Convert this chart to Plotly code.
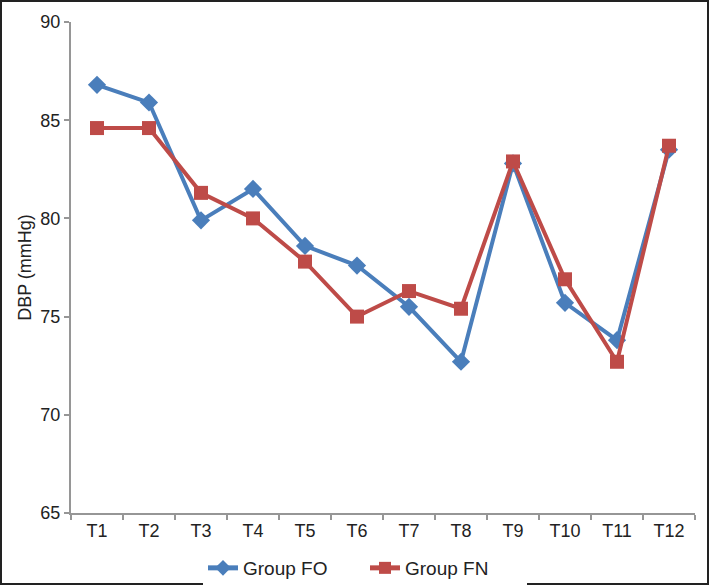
import plotly.graph_objects as go

categories = ["T1", "T2", "T3", "T4", "T5", "T6", "T7", "T8", "T9", "T10", "T11", "T12"]
group_fo = [86.8, 85.9, 79.9, 81.5, 78.6, 77.6, 75.5, 72.7, 82.8, 75.7, 73.8, 83.5]
group_fn = [84.6, 84.6, 81.3, 80.0, 77.8, 75.0, 76.3, 75.4, 82.9, 76.9, 72.7, 83.7]
y_ticks = [65, 70, 75, 80, 85, 90]

W, H = 710, 586
L, R, T, B = 71, 15, 22, 73

fig = go.Figure()
fig.add_trace(go.Scatter(x=categories, y=group_fo, name="Group FO", mode="lines+markers",
                         line=dict(color="#4A7EBB", width=4),
                         marker=dict(symbol="diamond", size=14, color="#4A7EBB")))
fig.add_trace(go.Scatter(x=categories, y=group_fn, name="Group FN", mode="lines+markers",
                         line=dict(color="#BE4B48", width=4),
                         marker=dict(symbol="square", size=14, color="#BE4B48")))

pw, ph = W - L - R, H - T - B
fig.add_shape(type="rect", xref="paper", yref="paper",
              x0=(-L + 1) / pw, x1=(W - L - 2) / pw,
              y0=(-B + 2) / ph, y1=(ph + T - 1) / ph,
              line=dict(color="#222222", width=2), layer="above")

fig.update_layout(
    width=W, height=H,
    margin=dict(l=L, r=R, t=T, b=B, autoexpand=False),
    paper_bgcolor="white", plot_bgcolor="white",
    font=dict(family="Liberation Sans, Arial, sans-serif", color="#222222", size=18),
    showlegend=True,
    legend=dict(orientation="h", x=(203 - L) / pw, xanchor="left",
                y=-(549 - T - ph) / ph, yanchor="top",
                font=dict(size=19), entrywidth=117, entrywidthmode="pixels",
                itemsizing="constant", tracegroupgap=0),
    xaxis=dict(type="category", showline=True, linecolor="#969696", linewidth=2,
               ticks="outside", tickson="boundaries", ticklen=5, tickcolor="#969696",
               tickwidth=2, showgrid=False, zeroline=False, range=[-0.5, 11.5],
               automargin=False),
    yaxis=dict(range=[65, 90], tickvals=y_ticks, showline=True, linecolor="#969696",
               linewidth=2, ticks="outside", ticklen=5, tickcolor="#969696", tickwidth=2,
               showgrid=False, zeroline=False, automargin=False,
               title=dict(text="DBP (mmHg)", font=dict(size=18), standoff=4)),
)

fig.write_html("out.html", config={"displayModeBar": False},
               post_script="document.body.style.margin='0px';document.body.style.overflow='hidden';")
